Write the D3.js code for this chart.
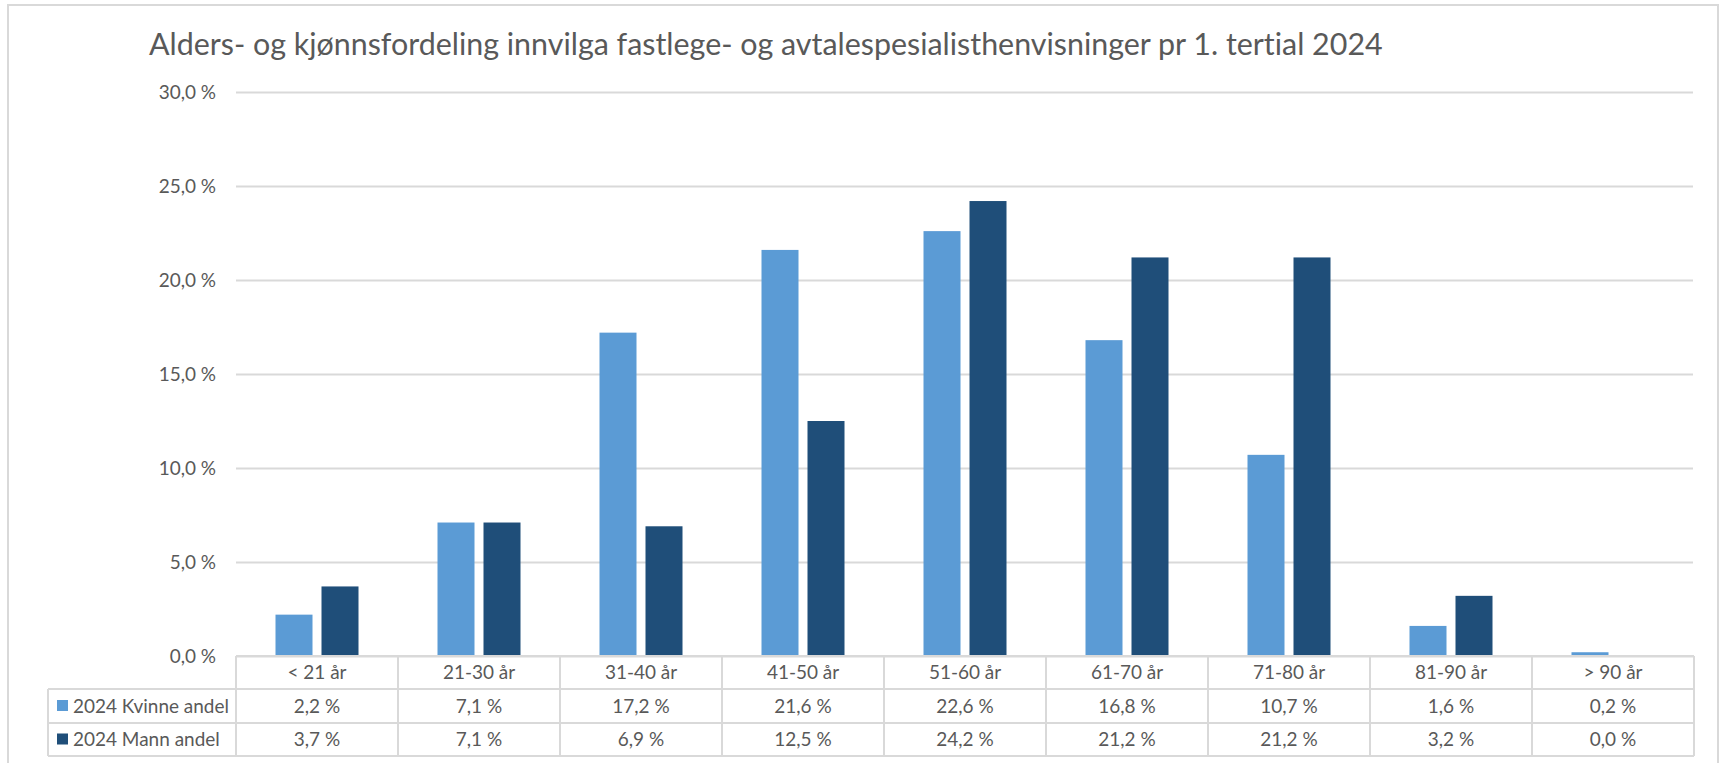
<!DOCTYPE html>
<html>
<head>
<meta charset="utf-8">
<script src="https://cdn.jsdelivr.net/npm/d3@7"></script>
<style>
  html, body { margin: 0; padding: 0; background: #ffffff; }
  svg { display: block; }
  text { font-family: Lato, "Open Sans", sans-serif; fill: #595959; font-variant-ligatures: none; }
</style>
</head>
<body>
<svg id="chart" width="1721" height="763"></svg>
<script>
// ---- data ----
const title = "Alders- og kjønnsfordeling innvilga fastlege- og avtalespesialisthenvisninger pr 1. tertial 2024";
const categories = ["< 21 år", "21-30 år", "31-40 år", "41-50 år", "51-60 år", "61-70 år", "71-80 år", "81-90 år", "> 90 år"];
const seriesNames = ["2024 Kvinne andel", "2024 Mann andel"];
const kvinne = [2.2, 7.1, 17.2, 21.6, 22.6, 16.8, 10.7, 1.6, 0.2];
const mann   = [3.7, 7.1, 6.9, 12.5, 24.2, 21.2, 21.2, 3.2, 0.0];
const yTicks = [0, 5, 10, 15, 20, 25, 30];
const colors = ["#5B9BD5", "#1F4E79"];

// ---- layout ----
const W = 1721, H = 763;
const plotL = 236, plotR = 1694, plotT = 92, plotB = 656;
const rowH = [656, 689, 723, 756];
const legendL = 48;
const gridColor = "#d9d9d9";

const svg = d3.select("#chart");
const locale = d3.formatLocale({decimal: ",", thousands: " ", grouping: [3], currency: ["", " kr"]});
const f1 = locale.format(".1f");
const pct = v => f1(v) + " %";

// outer border
svg.append("rect").attr("x", 8).attr("y", 5).attr("width", 1710).attr("height", 770)
  .attr("fill", "#fff").attr("stroke", gridColor).attr("stroke-width", 2);

// font fitting helper
function fitSize(txt, weight, target, base) {
  const t = svg.append("text").attr("font-size", base).attr("font-weight", weight).text(txt);
  const w = t.node().getComputedTextLength();
  t.remove();
  return base * target / w;
}
const fsTitle = fitSize(title, 400, 1234, 28);
const fsText = fitSize("2024 Kvinne andel", 400, 156, 20);

// scales
const x0 = d3.scaleBand().domain(categories).range([plotL, plotR]).paddingInner(0).paddingOuter(0);
const bw = x0.bandwidth();
const groupW = 83;
const x1 = d3.scaleBand().domain(seriesNames).range([(bw - groupW) / 2, (bw + groupW) / 2]).paddingInner(0.1957);
const y = d3.scaleLinear().domain([0, 30]).range([plotB, plotT]);

// title
svg.append("text").attr("x", 149).attr("y", 55).attr("font-size", fsTitle).attr("font-weight", 400)
  .attr("fill", "#595959").text(title);

// y axis + gridlines
const yAxis = d3.axisLeft(y).tickValues(yTicks).tickFormat(pct).tickSize(-(plotR - plotL - 1)).tickPadding(20);
const gy = svg.append("g").attr("transform", `translate(${plotL},0)`).call(yAxis);
gy.select(".domain").remove();
gy.selectAll(".tick line").attr("stroke", gridColor).attr("stroke-width", 2);
gy.selectAll(".tick text").attr("font-size", fsText).attr("fill", "#595959")
  .attr("font-family", "Lato, 'Open Sans', sans-serif").attr("dy", "0.36em").attr("x", -20);

// bars
const data = categories.map((c, i) => ({cat: c, vals: [kvinne[i], mann[i]]}));
const groups = svg.append("g").selectAll("g").data(data).join("g")
  .attr("transform", d => `translate(${x0(d.cat)},0)`);
groups.selectAll("rect").data(d => d.vals.map((v, j) => ({s: seriesNames[j], v, j}))).join("rect")
  .attr("x", d => x1(d.s)).attr("width", x1.bandwidth())
  .attr("y", d => y(d.v)).attr("height", d => y(0) - y(d.v))
  .attr("fill", d => colors[d.j]);

// data table
const tbl = svg.append("g");
const line = (x1_, y1_, x2_, y2_) => tbl.append("line").attr("x1", x1_).attr("y1", y1_).attr("x2", x2_).attr("y2", y2_)
  .attr("stroke", gridColor).attr("stroke-width", 2);
line(plotL, rowH[0], plotR, rowH[0]);
for (let r = 1; r < rowH.length; r++) line(legendL, rowH[r], plotR, rowH[r]);
line(legendL, rowH[1], legendL, rowH[3]);
categories.forEach(c => line(x0(c), rowH[0], x0(c), rowH[3]));
line(plotR, rowH[0], plotR, rowH[3]);

const rowC = r => (rowH[r] + rowH[r + 1]) / 2;
// header row
tbl.selectAll("text.cat").data(categories).join("text").attr("class", "cat")
  .attr("x", d => x0(d) + bw / 2).attr("y", rowC(0)).attr("dy", "0.36em")
  .attr("text-anchor", "middle").attr("font-size", fsText).text(d => d);
// series rows
[kvinne, mann].forEach((vals, si) => {
  const cy = rowC(si + 1);
  tbl.append("rect").attr("x", 57).attr("y", cy - 6).attr("width", 11).attr("height", 11).attr("fill", colors[si]);
  tbl.append("text").attr("x", 73).attr("y", cy).attr("dy", "0.36em").attr("font-size", fsText).text(seriesNames[si]);
  tbl.selectAll(null).data(vals).join("text")
    .attr("x", (d, i) => x0(categories[i]) + bw / 2).attr("y", cy).attr("dy", "0.36em")
    .attr("text-anchor", "middle").attr("font-size", fsText).text(d => pct(d));
});
</script>
</body>
</html>
